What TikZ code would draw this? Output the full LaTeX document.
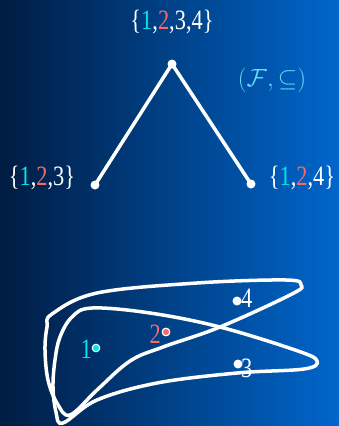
\documentclass[tikz,border=0pt]{standalone}
\usepackage{graphicx}
\usepackage{fontspec}
\newfontfamily\lblfont{Liberation Serif}
\definecolor{bgleft}{RGB}{0,28,66}
\definecolor{bgright}{RGB}{0,102,204}
\definecolor{elemone}{RGB}{0,230,235}
\definecolor{elemtwo}{RGB}{245,105,105}
\definecolor{famcol}{RGB}{100,222,250}
\newcommand{\one}{{\color{elemone}1}}
\newcommand{\two}{{\color{elemtwo}2}}
\newcommand{\narrow}[1]{\scalebox{0.8}[1]{#1}}
\tikzset{
  setlbl/.style={text=white, inner sep=1pt, font=\lblfont\fontsize{28}{28}\selectfont},
  hdot/.style={circle, fill=white, inner sep=0pt, minimum size=9pt},
  hline/.style={white, line width=3.5pt},
  loop/.style={white, line width=3.5pt},
}
\begin{document}
\begin{tikzpicture}[x=1pt, y=-1pt]
      % Fond
      \useasboundingbox (0,0) rectangle (339,426);
      \shade[left color=bgleft, right color=bgright] (0,0) rectangle (339,426);

      % Diagramme de Hasse
      \node[hdot] (top) at (172,64) {};
      \node[hdot] (left) at (95,185) {};
      \node[hdot] (right) at (251,184) {};
      \draw[hline] (left.center) -- (top.center) -- (right.center);
      \node[setlbl] (ltop) at (172,22) {\narrow{\{\one,\two,3,4\}}};
      \node[setlbl] (lleft) at (42,178) {\narrow{\{\one,\two,3\}}};
      \node[setlbl] (lright) at (302,178) {\narrow{\{\one,\two,4\}}};
      \node[text=famcol, font=\fontsize{25}{25}\selectfont] (fam) at (272,80) {$(\mathcal{F},\subseteq)$};

      % Ensembles
      \draw[loop] plot[smooth cycle, tension=0.6] coordinates {
        (52,314) (97,293) (197,283) (286,280) (301,285) (292,294)
        (220,327) (163,347) (130,361) (97,390) (70,415)
        (57,403) (48,380) (45,350) (47,327)};
      \draw[loop] plot[smooth cycle, tension=0.6] coordinates {
        (72,317) (92,308) (150,313) (220,327) (298,351) (317,361)
        (304,369) (237,373) (157,383) (97,400) (63,423)
        (56,412) (53,387) (55,360) (60,337)};

      % Elements
      \fill[elemone, draw=white, line width=1pt] (96,348) circle (3.8);
      \fill[elemtwo, draw=white, line width=1.2pt] (166,332) circle (3.8);
      \fill[white] (237,301) circle (4.5);
      \fill[white] (238,364) circle (4.5);
      \node[setlbl, text=elemone, anchor=east] (e1) at (93,349) {\narrow{1}};
      \node[setlbl, text=elemtwo, anchor=east] (e2) at (162,334) {\narrow{2}};
      \node[setlbl, anchor=west] (e4) at (240,298) {\narrow{4}};
      \node[setlbl, anchor=west] (e3) at (240,368) {\narrow{3}};
\end{tikzpicture}
\end{document}
